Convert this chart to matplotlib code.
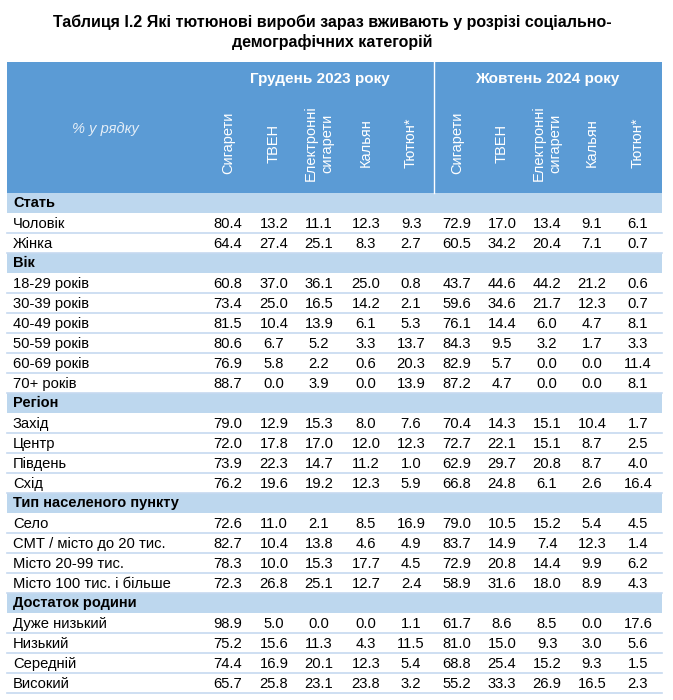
import matplotlib.pyplot as plt
from matplotlib import font_manager
from matplotlib.patches import Rectangle

# table data
title = "Таблиця І.2 Які тютюнові вироби зараз вживають у розрізі соціально-\nдемографічних категорій"
periods = ["Грудень 2023 року", "Жовтень 2024 року"]
products = ["Сигарети", "ТВЕН", "Електронні\nсигарети", "Кальян", "Тютюн*"]
groups = ["Стать", "Вік", "Регіон", "Тип населеного пункту", "Достаток родини"]
labels = [
    ["Чоловік", "Жінка"],
    ["18-29 років", "30-39 років", "40-49 років", "50-59 років", "60-69 років", "70+ років"],
    ["Захід", "Центр", "Південь", "Схід"],
    ["Село", "СМТ / місто до 20 тис.", "Місто 20-99 тис.", "Місто 100 тис. і більше"],
    ["Дуже низький", "Низький", "Середній", "Високий"],
]
dec_2023 = [
    [80.4, 13.2, 11.1, 12.3, 9.3], [64.4, 27.4, 25.1, 8.3, 2.7],
    [60.8, 37.0, 36.1, 25.0, 0.8], [73.4, 25.0, 16.5, 14.2, 2.1],
    [81.5, 10.4, 13.9, 6.1, 5.3], [80.6, 6.7, 5.2, 3.3, 13.7],
    [76.9, 5.8, 2.2, 0.6, 20.3], [88.7, 0.0, 3.9, 0.0, 13.9],
    [79.0, 12.9, 15.3, 8.0, 7.6], [72.0, 17.8, 17.0, 12.0, 12.3],
    [73.9, 22.3, 14.7, 11.2, 1.0], [76.2, 19.6, 19.2, 12.3, 5.9],
    [72.6, 11.0, 2.1, 8.5, 16.9], [82.7, 10.4, 13.8, 4.6, 4.9],
    [78.3, 10.0, 15.3, 17.7, 4.5], [72.3, 26.8, 25.1, 12.7, 2.4],
    [98.9, 5.0, 0.0, 0.0, 1.1], [75.2, 15.6, 11.3, 4.3, 11.5],
    [74.4, 16.9, 20.1, 12.3, 5.4], [65.7, 25.8, 23.1, 23.8, 3.2],
]
oct_2024 = [
    [72.9, 17.0, 13.4, 9.1, 6.1], [60.5, 34.2, 20.4, 7.1, 0.7],
    [43.7, 44.6, 44.2, 21.2, 0.6], [59.6, 34.6, 21.7, 12.3, 0.7],
    [76.1, 14.4, 6.0, 4.7, 8.1], [84.3, 9.5, 3.2, 1.7, 3.3],
    [82.9, 5.7, 0.0, 0.0, 11.4], [87.2, 4.7, 0.0, 0.0, 8.1],
    [70.4, 14.3, 15.1, 10.4, 1.7], [72.7, 22.1, 15.1, 8.7, 2.5],
    [62.9, 29.7, 20.8, 8.7, 4.0], [66.8, 24.8, 6.1, 2.6, 16.4],
    [79.0, 10.5, 15.2, 5.4, 4.5], [83.7, 14.9, 7.4, 12.3, 1.4],
    [72.9, 20.8, 14.4, 9.9, 6.2], [58.9, 31.6, 18.0, 8.9, 4.3],
    [61.7, 8.6, 8.5, 0.0, 17.6], [81.0, 15.0, 9.3, 3.0, 5.6],
    [68.8, 25.4, 15.2, 9.3, 1.5], [55.2, 33.3, 26.9, 16.5, 2.3],
]

names = {f.name for f in font_manager.fontManager.ttflist}
narrow = "Liberation Sans Narrow" if "Liberation Sans Narrow" in names else "Liberation Sans"
plt.rcParams["font.family"] = ["Liberation Sans", "DejaVu Sans"]

HEAD_BLUE = "#5B9BD5"
GROUP_BLUE = "#BDD7EE"
LINE = "#C6D9F0"

fig = plt.figure(figsize=(6.73, 7), dpi=100)
ax = fig.add_axes([0, 0, 1, 1])
ax.set_xlim(0, 673)
ax.set_ylim(700, 0)
ax.axis("off")

left, right = 7, 662
head_top, head_bot = 62, 193
row_h = 20
col_x = [228, 274, 319, 366, 411, 457, 502, 547, 592, 638]
divider = 434

ax.text(332, 32, title, ha="center", va="center", fontsize=11.5, fontweight="bold",
        family=[narrow, "DejaVu Sans"], linespacing=1.3)

# header
ax.add_patch(Rectangle((left, head_top), right - left, head_bot - head_top, color=HEAD_BLUE, lw=0))
ax.plot([divider, divider], [head_top, head_bot], color="white", lw=1)
ax.text(105, 129, "% у рядку", ha="center", va="center", fontsize=10.5, style="italic", color="#E3EDF7")
ax.text(320, 79, periods[0], ha="center", va="center", fontsize=11, fontweight="bold",
        color="white", family=[narrow, "DejaVu Sans"])
ax.text(547, 79, periods[1], ha="center", va="center", fontsize=11, fontweight="bold",
        color="white", family=[narrow, "DejaVu Sans"])
for i, x in enumerate(col_x):
    ax.text(x, 143, products[i % 5], rotation=90, ha="center", va="center", fontsize=10.5,
            color="white", multialignment="center", linespacing=1.25)

# body
y = head_bot
r = 0
for g, grp in enumerate(groups):
    ax.add_patch(Rectangle((left, y), right - left, row_h, color=GROUP_BLUE, lw=0))
    ax.text(13, y + row_h / 2, grp, ha="left", va="center", fontsize=10.5, fontweight="bold")
    y += row_h
    for lab in labels[g]:
        ax.text(13, y + row_h / 2 + 1, lab, ha="left", va="center", fontsize=10.6)
        vals = dec_2023[r] + oct_2024[r]
        for x, v in zip(col_x, vals):
            ax.text(x, y + row_h / 2 + 1, f"{v:.1f}", ha="center", va="center", fontsize=10.6)
        y += row_h
        ax.plot([left, right], [y, y], color=LINE, lw=1.2)
        r += 1

fig.savefig("out.png", dpi=100)
